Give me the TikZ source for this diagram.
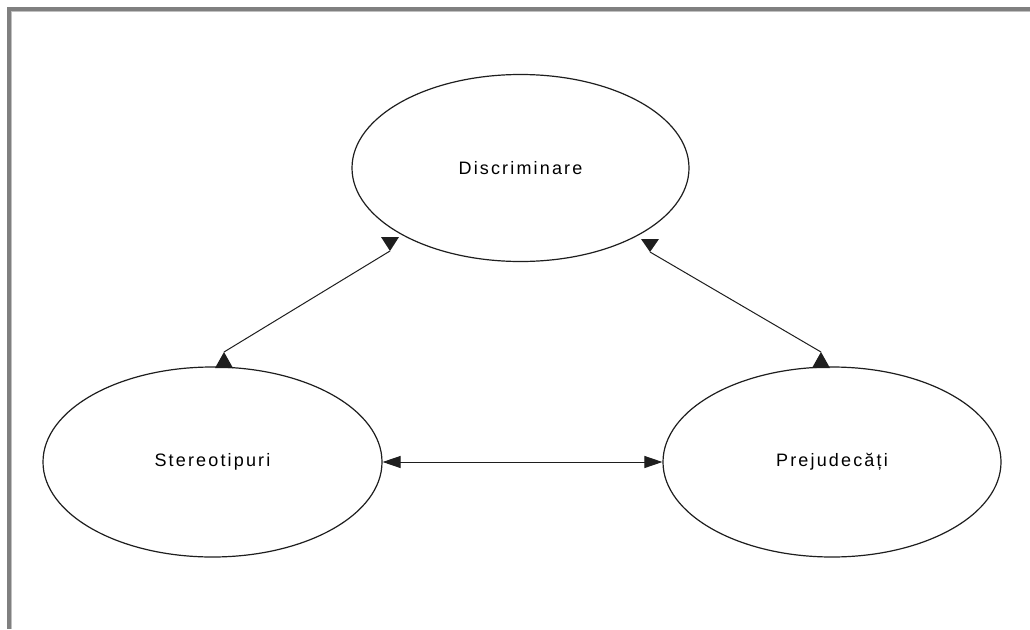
\documentclass[tikz,border=0pt]{standalone}
\usepackage{fontspec}
\setmainfont{Liberation Sans}
\usetikzlibrary{shapes.geometric,arrows.meta}
\definecolor{framegray}{RGB}{128,128,128}
\definecolor{ink}{RGB}{30,30,30}
\tikzset{
  bubble/.style={ellipse, draw=ink, line width=1.2pt, inner sep=0pt, font=\fontsize{18}{21}\selectfont\addfontfeatures{LetterSpace=12}},
  link/.style={draw=ink, line width=1pt},
  tipdown/.style={fill=ink},
}
\begin{document}
\begin{tikzpicture}[x=1pt,y=-1pt]
\useasboundingbox[fill=white] (0,0) rectangle (1030,629);
% frame
\fill[framegray] (7,7) rectangle (1030,11);
\fill[framegray] (7,7) rectangle (11,629);
\fill[framegray!50] (11,11) rectangle (1030,12);
\fill[framegray!50] (11,11) rectangle (12,629);
% nodes
\node[bubble, minimum width=337pt, minimum height=187pt] (D) at (520.5,168) {Discriminare};
\node[bubble, minimum width=339pt, minimum height=190pt] (S) at (212.5,462) {Stereotipuri};
\node[bubble, minimum width=338pt, minimum height=190pt] (P) at (832,462) {Prejudecăți};
% connector end points
\coordinate (dl) at (390,251);
\coordinate (dr) at (650,252);
\coordinate (st) at (224,352);
\coordinate (pt) at (821,352);
% diagonal connectors
\draw[link] (dl) -- (st);
\draw[link] (dr) -- (pt);
% axis-aligned tips
\fill[tipdown] (dl) -- ++(-9,-14) -- ++(18,0) -- cycle;
\fill[tipdown] (dr) -- ++(-9,-13) -- ++(18,0) -- cycle;
\fill[tipdown] (st) -- ++(-9,16) -- ++(18,0) -- cycle;
\fill[tipdown] (pt) -- ++(-9,16) -- ++(18,0) -- cycle;
% horizontal connector
\draw[link, {Triangle[length=18pt,width=12pt]}-{Triangle[length=18pt,width=12pt]}] (S.east) -- (P.west);
\end{tikzpicture}
\end{document}
